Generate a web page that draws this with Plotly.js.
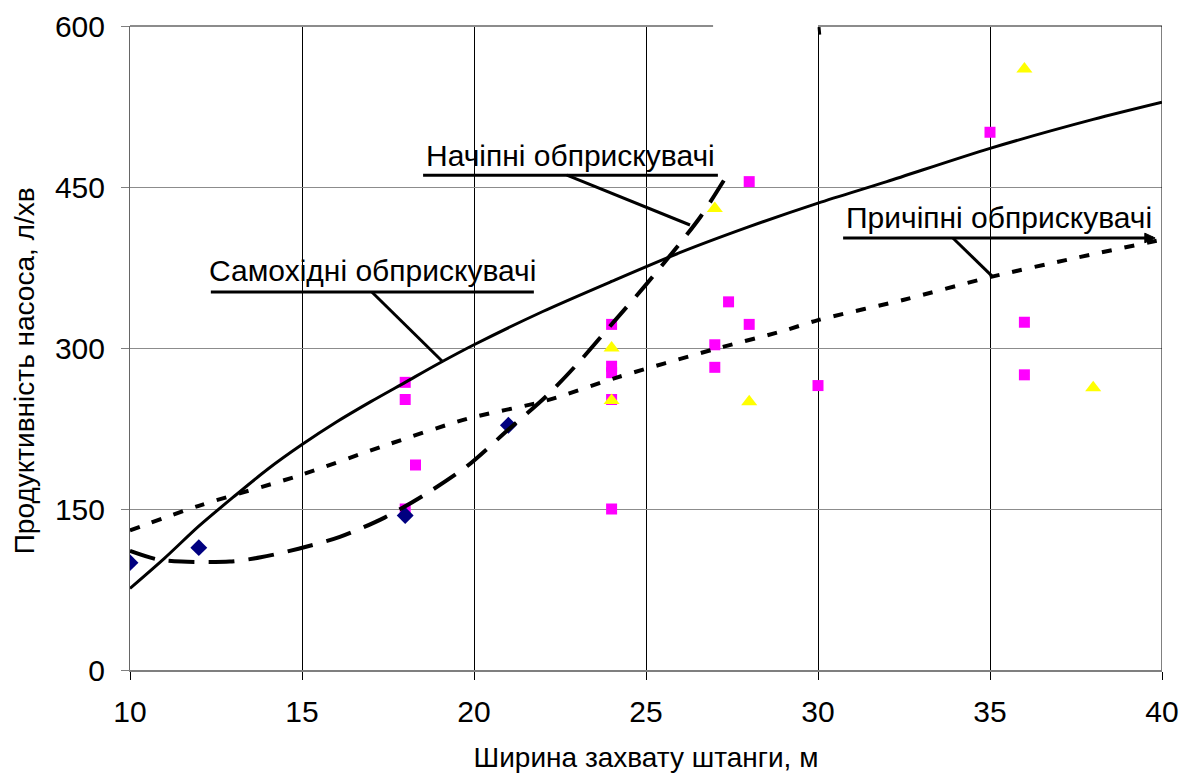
<!DOCTYPE html>
<html><head><meta charset="utf-8">
<script src="https://cdn.plot.ly/plotly-3.0.1.min.js"></script>
<style>html,body{margin:0;padding:0;background:#fff}#chart{width:1192px;height:776px}</style>
</head><body><div id="chart"></div>
<script>
// Scatter data
const diamondX = [10, 12, 18, 21];
const diamondY = [100, 114, 144, 228];
const squareX = [18, 18, 18.3, 18, 24, 24, 24, 24, 24, 27, 27, 27.4, 28, 28, 30, 35, 36, 36];
const squareY = [268, 252, 191, 150, 150, 322, 283, 277, 252, 303, 282, 343, 322, 455, 265, 501, 324, 275];
const triangleX = [24, 24, 27, 28, 36, 38];
const triangleY = [300, 251, 430, 250, 560, 263];
// Trend curves
const selfX = [10, 11, 12, 13, 14, 15, 16, 17, 18, 19, 20, 22, 24, 26, 28, 30, 32, 35, 38, 40];
const selfY = [76, 104, 134, 161, 187, 210, 231, 250, 268, 286, 303, 334, 362, 389, 413, 435, 455, 486, 513, 529];
const mountX = [10, 10.8, 11.5, 12.9, 13.8, 14.9, 16.1, 17.4, 18.6, 19.8, 21.0, 22.1, 23.0, 24.0, 25.0, 26.0, 26.6, 27.3];
const mountY = [111, 103, 101, 101, 105, 113, 124, 142, 164, 190, 224, 255, 285, 322, 359, 398, 423, 458];
const trailX = [10, 12, 14.9, 17.4, 19.8, 22.1, 24.1, 27, 29, 30, 32.5, 35, 37.5, 40];
const trailY = [130, 153, 181, 209, 234, 251, 272, 299, 316, 326, 345, 366, 384, 401];
// Axis ticks and labels
const xTicks = [10, 15, 20, 25, 30, 35, 40];
const yTicks = [0, 150, 300, 450, 600];
const xTitle = 'Ширина захвату штанги, м';
const yTitle = 'Продуктивність насоса, л/хв';
const labelMount = 'Начіпні обприскувачі';
const labelSelf = 'Самохідні обприскувачі';
const labelTrail = 'Причіпні обприскувачі';

const FONT = 'Liberation Sans, Arial, sans-serif';

const traces = [
  {x: squareX, y: squareY, mode: 'markers', type: 'scatter',
   marker: {symbol: 'square', size: 11, color: '#FF00FF'}},
  {x: triangleX, y: triangleY, mode: 'markers', type: 'scatter',
   marker: {symbol: 'triangle-up', size: 14, color: '#FFFF00'}},
  {x: diamondX, y: diamondY, mode: 'markers', type: 'scatter',
   marker: {symbol: 'diamond', size: 13, color: '#000080'}},
  {x: trailX, y: trailY, mode: 'lines', type: 'scatter',
   line: {color: '#000', width: 4, dash: '10px,13px', shape: 'spline', smoothing: 0.8}},
  {x: mountX, y: mountY, mode: 'lines', type: 'scatter',
   line: {color: '#000', width: 4, dash: '26px,14px', shape: 'spline', smoothing: 0.8}},
  {x: selfX, y: selfY, mode: 'lines', type: 'scatter',
   line: {color: '#000', width: 3, shape: 'spline', smoothing: 0.8}}
];

const ln = (x0, y0, x1, y1, w, c) => ({type: 'line', xref: 'x', yref: 'y', x0, y0, x1, y1,
  line: {color: c || '#000', width: w || 3}});

const layout = {
  width: 1192, height: 776,
  margin: {l: 130, r: 30, t: 26, b: 106},
  paper_bgcolor: '#fff', plot_bgcolor: '#fff',
  showlegend: false,
  font: {family: FONT, color: '#000', size: 28},
  xaxis: {
    range: [10, 40], tickvals: xTicks, ticktext: xTicks.map(String),
    showgrid: true, gridcolor: '#000', gridwidth: 1,
    zeroline: false, showline: true, linecolor: '#7f7f7f', linewidth: 2,
    ticks: 'outside', ticklen: 8, tickcolor: '#000', tickwidth: 1,
    tickfont: {family: FONT, size: 30, color: '#000'},
    ticklabelstandoff: 6,
    title: {text: xTitle, font: {family: FONT, size: 28, color: '#000'}, standoff: 20},
    automargin: false
  },
  yaxis: {
    range: [0, 600], tickvals: yTicks, ticktext: yTicks.map(String),
    showgrid: true, gridcolor: '#8c8c8c', gridwidth: 1,
    zeroline: false, showline: true, linecolor: '#666', linewidth: 1,
    ticks: 'outside', ticklen: 8, tickcolor: '#7f7f7f', tickwidth: 1,
    tickfont: {family: FONT, size: 30, color: '#000'},
    ticklabelstandoff: 10,
    automargin: false
  },
  shapes: [
    // top border with gap
    {type: 'line', xref: 'x', yref: 'paper', x0: 10, x1: 26.95, y0: 1, y1: 1, line: {color: '#8c8c8c', width: 2}},
    {type: 'line', xref: 'x', yref: 'paper', x0: 30, x1: 40, y0: 1, y1: 1, line: {color: '#8c8c8c', width: 2}},
    // right border
    {type: 'line', xref: 'x', yref: 'paper', x0: 40, x1: 40, y0: 0, y1: 1, line: {color: '#000', width: 1}},
    // small mark at top
    {type: 'line', xref: 'x', yref: 'y', x0: 30.03, x1: 30.05, y0: 599, y1: 592, line: {color: '#000', width: 3}},
    // callouts
    ln(18.52, 461, 27.09, 461, 3),
    ln(22.70, 461, 26.28, 414.6, 3),
    ln(12.35, 352.2, 21.74, 352.2, 3),
    ln(17.03, 352.2, 19.10, 287, 3),
    ln(30.73, 402.5, 39.74, 402.5, 3),
    ln(33.92, 402.5, 35.06, 367, 3),
    {type: 'path', xref: 'x', yref: 'y', path: 'M 39.50 407 L 39.80 402.5 L 39.50 398 Z',
     fillcolor: '#000', line: {color: '#000', width: 1}}
  ],
  annotations: [
    {x: -0.102, y: 0.465, xref: 'paper', yref: 'paper', text: yTitle, showarrow: false, textangle: -90,
     xanchor: 'center', yanchor: 'middle', font: {family: FONT, size: 28, color: '#000'}},
    {x: 22.80, y: 479, xref: 'x', yref: 'y', text: labelMount, showarrow: false,
     xanchor: 'center', yanchor: 'middle', font: {family: FONT, size: 30, color: '#000'}},
    {x: 17.06, y: 372, xref: 'x', yref: 'y', text: labelSelf, showarrow: false,
     xanchor: 'center', yanchor: 'middle', font: {family: FONT, size: 30, color: '#000'}},
    {x: 35.26, y: 422, xref: 'x', yref: 'y', text: labelTrail, showarrow: false,
     xanchor: 'center', yanchor: 'middle', font: {family: FONT, size: 30, color: '#000'}}
  ]
};

Plotly.newPlot('chart', traces, layout, {displayModeBar: false, staticPlot: true});
</script>
</body></html>
